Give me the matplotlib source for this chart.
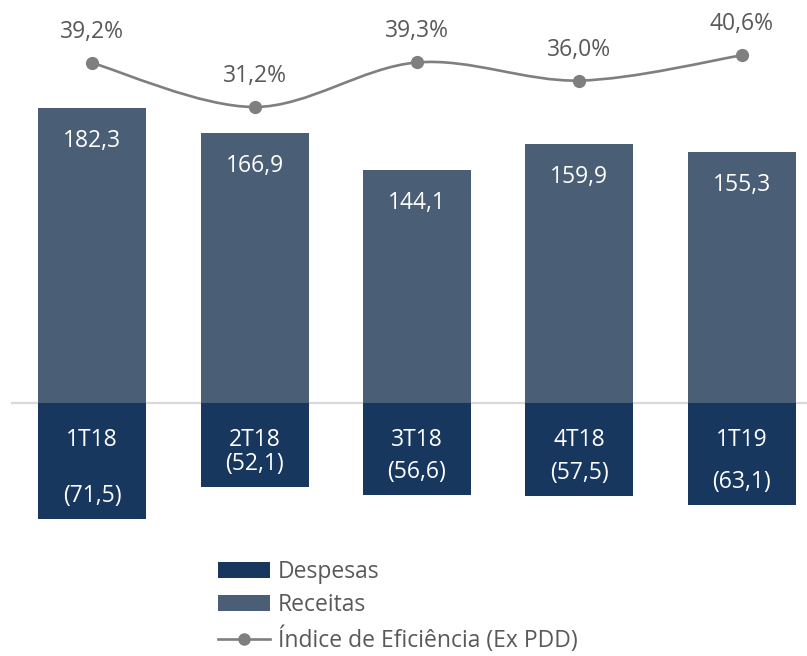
import matplotlib
matplotlib.use("Agg")
import matplotlib.pyplot as plt
from matplotlib.path import Path
from matplotlib.patches import PathPatch, Patch
from matplotlib.lines import Line2D
import numpy as np

categories = ["1T18", "2T18", "3T18", "4T18", "1T19"]
receitas = [182.3, 166.9, 144.1, 159.9, 155.3]
despesas = [-71.5, -52.1, -56.6, -57.5, -63.1]
eficiencia = [39.2, 31.2, 39.3, 36.0, 40.6]

C_DESP = "#17375E"
C_REC = "#4A5E75"
C_LINE = "#7F7F7F"
C_TEXT = "#595959"

plt.rcParams['font.family'] = ['Open Sans', 'DejaVu Sans']

W, H = 807, 656
fig = plt.figure(figsize=(W / 100, H / 100), dpi=100)

# axes in pixel layout
ax_left, ax_right = 11, 823
ax_top, ax_bot = 20, 540
ax = fig.add_axes([ax_left / W, 1 - ax_bot / H, (ax_right - ax_left) / W, (ax_bot - ax_top) / H])
ax2 = ax.twinx()

base_px = 403
scale = 1.618  # px per unit
ax.set_ylim((base_px - ax_bot) / scale, (base_px - ax_top) / scale)
ax.set_xlim(-0.5, len(categories) - 0.5)

p_ref, p_ref_px, p_scale = 39.2, 63, 5.5
ax2.set_ylim(p_ref - (ax_bot - p_ref_px) / p_scale, p_ref + (p_ref_px - ax_top) / p_scale)

x = np.arange(len(categories))
bw = 0.665
ax.axhline(0, color="#D9D9D9", lw=1.6, zorder=1)
ax.bar(x, receitas, bw, color=C_REC, zorder=2)
ax.bar(x, despesas, bw, color=C_DESP, zorder=2)

fs = 16.5


def fmt(v):
    return f"{abs(v):.1f}".replace(".", ",")


for i in range(len(categories)):
    ax.annotate(fmt(receitas[i]), (x[i], receitas[i]), xytext=(0, -33 * 0.72),
                textcoords="offset points", ha="center", va="center",
                color="white", fontsize=fs, zorder=5)
    ax.annotate("(" + fmt(despesas[i]) + ")", (x[i], despesas[i]), xytext=(0, 23 * 0.72),
                textcoords="offset points", ha="center", va="center",
                color="white", fontsize=fs, zorder=5)
    ax.annotate(categories[i], (x[i], 0), xytext=(0, -37 * 0.72),
                textcoords="offset points", ha="center", va="center",
                color="white", fontsize=fs, zorder=5)

# smooth line (Catmull-Rom -> cubic Bezier) through data points
pts = np.column_stack([x.astype(float), np.array(eficiencia, dtype=float)])
verts = [tuple(pts[0])]
codes = [Path.MOVETO]
n = len(pts)
for i in range(n - 1):
    p0 = pts[i - 1] if i > 0 else pts[i]
    p1 = pts[i]
    p2 = pts[i + 1]
    p3 = pts[i + 2] if i + 2 < n else pts[i + 1]
    c1 = p1 + (p2 - p0) / 6.0
    c2 = p2 - (p3 - p1) / 6.0
    verts += [tuple(c1), tuple(c2), tuple(p2)]
    codes += [Path.CURVE4] * 3
ax2.add_patch(PathPatch(Path(verts, codes), fill=False, edgecolor=C_LINE, lw=1.9, zorder=3))
ax2.plot(x, eficiencia, linestyle="none", marker="o", ms=8.5, color=C_LINE, zorder=4)
for i in range(n):
    ax2.annotate(f"{eficiencia[i]:.1f}%".replace(".", ","), (x[i], eficiencia[i]),
                 xytext=(0, 31 * 0.72), textcoords="offset points",
                 ha="center", va="center", color=C_TEXT, fontsize=fs)

for a in (ax, ax2):
    for s in a.spines.values():
        s.set_visible(False)
    a.set_xticks([])
    a.set_yticks([])
    a.patch.set_visible(False)

handles = [
    Patch(facecolor=C_DESP, edgecolor="none", label="Despesas"),
    Patch(facecolor=C_REC, edgecolor="none", label="Receitas"),
    Line2D([], [], color=C_LINE, lw=1.9, marker="o", ms=8, label="Índice de Eficiência (Ex PDD)"),
]
leg = fig.legend(handles=handles, loc="upper left",
                 bbox_to_anchor=(218 / W, 1 - 560 / H), frameon=False,
                 fontsize=fs, handlelength=2.25, handleheight=0.65,
                 handletextpad=0.35, labelspacing=0.4, borderpad=0, borderaxespad=0)
for t in leg.get_texts():
    t.set_color(C_TEXT)

fig.savefig("out.png", dpi=100)
